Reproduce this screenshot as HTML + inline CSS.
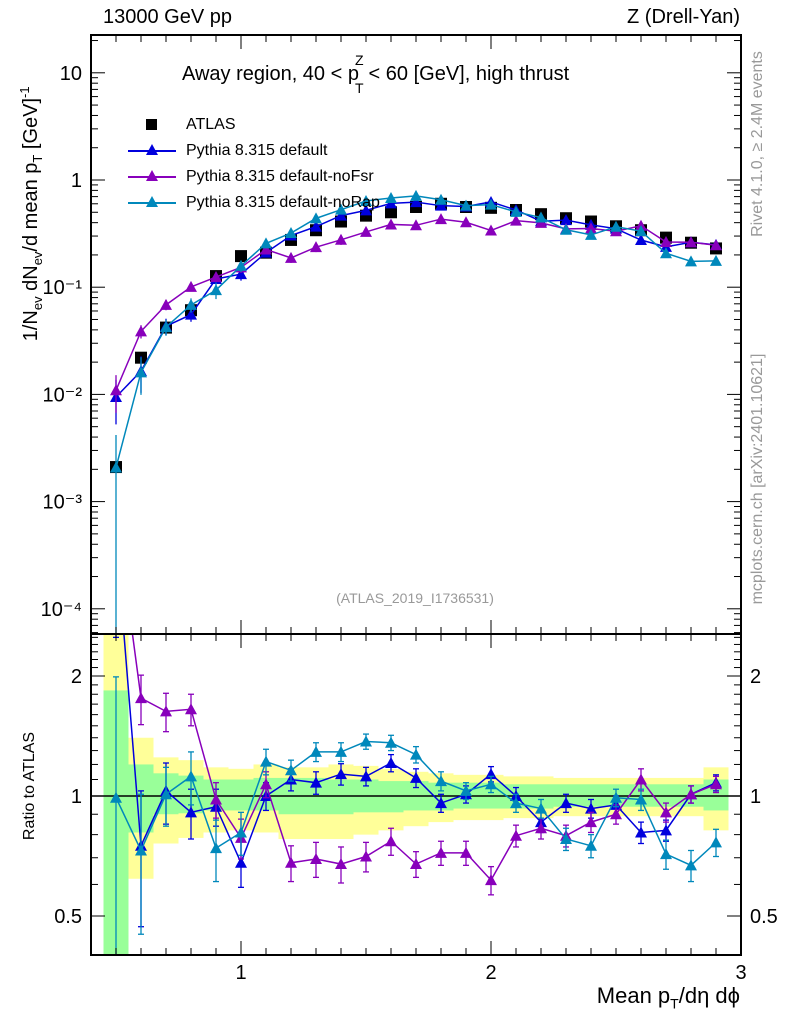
<!DOCTYPE html>
<html><head><meta charset="utf-8"><style>
body{margin:0;background:#fff;}
svg{display:block;font-family:"Liberation Sans",sans-serif;}
</style></head><body>
<svg id="c" width="786" height="1024" viewBox="0 0 786 1024" xmlns="http://www.w3.org/2000/svg"></svg>
<script>
const xs=[0.5,0.6,0.7,0.8,0.9,1.0,1.1,1.2,1.3,1.4,1.5,1.6,1.7,1.8,1.9,2.0,2.1,2.2,2.3,2.4,2.5,2.6,2.7,2.8,2.9];
const atlas=[0.0021,0.022,0.042,0.061,0.127,0.195,0.21,0.276,0.34,0.41,0.465,0.50,0.56,0.60,0.56,0.55,0.525,0.48,0.44,0.41,0.37,0.34,0.29,0.26,0.23];
const rDef=[4.5,0.75,1.03,0.91,0.94,0.68,1.0,1.10,1.08,1.135,1.12,1.21,1.11,0.96,1.01,1.135,1.0,0.86,0.96,0.93,0.95,0.81,0.82,1.01,1.08];
const rFsr=[5.2,1.76,1.63,1.65,0.98,0.785,1.07,0.68,0.695,0.675,0.705,0.77,0.675,0.72,0.72,0.615,0.795,0.83,0.795,0.86,0.90,1.10,0.91,1.01,1.07];
const rRap=[0.99,0.73,1.01,1.12,0.74,0.81,1.22,1.16,1.29,1.29,1.37,1.36,1.27,1.09,1.03,1.07,0.96,0.93,0.78,0.75,0.99,0.98,0.715,0.67,0.765];
const eDef=[2.0,0.28,0.18,0.13,0.10,0.09,0.08,0.07,0.07,0.07,0.06,0.06,0.06,0.05,0.05,0.05,0.05,0.05,0.05,0.05,0.05,0.05,0.05,0.05,0.05];
const eFsr=[2.0,0.25,0.18,0.15,0.10,0.09,0.08,0.07,0.07,0.07,0.06,0.06,0.05,0.05,0.05,0.05,0.05,0.05,0.05,0.05,0.05,0.07,0.05,0.05,0.05];
const eRap=[1.0,0.28,0.17,0.17,0.13,0.10,0.09,0.07,0.07,0.07,0.06,0.06,0.06,0.06,0.05,0.05,0.05,0.05,0.05,0.05,0.05,0.06,0.06,0.06,0.06];
const yUp=[2.6,1.40,1.25,1.23,1.18,1.17,1.20,1.18,1.18,1.20,1.19,1.17,1.15,1.14,1.13,1.13,1.12,1.12,1.11,1.11,1.11,1.11,1.11,1.11,1.18];
const yDn=[0.3,0.62,0.76,0.785,0.81,0.82,0.81,0.78,0.78,0.78,0.80,0.82,0.84,0.86,0.87,0.87,0.88,0.88,0.89,0.89,0.89,0.89,0.89,0.89,0.82];
const gUp=[1.84,1.20,1.14,1.125,1.10,1.10,1.11,1.11,1.11,1.10,1.10,1.09,1.09,1.08,1.08,1.08,1.07,1.07,1.07,1.07,1.07,1.07,1.07,1.07,1.10];
const gDn=[0.3,0.81,0.90,0.905,0.92,0.92,0.92,0.90,0.90,0.90,0.91,0.91,0.92,0.92,0.93,0.93,0.93,0.93,0.94,0.94,0.94,0.94,0.94,0.94,0.92];
const mainTicks=["10","1","10\u207B\u00B9","10\u207B\u00B2","10\u207B\u00B3","10\u207B\u2074"];

const L=91,R=741,T=35,M=634,B=955;
const X=v=>L+(v-0.4)*250;
const Y=v=>180-107.2*Math.log10(v);
const YR=r=>796-120*Math.log2(r);
const svg=document.getElementById('c');
const NS='http://www.w3.org/2000/svg';
function el(tag,at,parent){const e=document.createElementNS(NS,tag);for(const k in at)e.setAttribute(k,at[k]);(parent||svg).appendChild(e);return e;}
function clamp(v,a,b){return Math.max(a,Math.min(b,v));}

const bands=el('g',{});


xs.forEach((x,i)=>{
  const x0=X(x-0.05),x1=X(x+0.05);
  const y1=clamp(YR(yUp[i]),M,B),y2=clamp(YR(yDn[i]),M,B);
  const r=el('rect',{x:x0,y:y1,width:x1-x0,height:y2-y1,fill:'#ffff99'},bands);
  
  
  const g1=clamp(YR(gUp[i]),M,B),g2=clamp(YR(gDn[i]),M,B);
  const g=el('rect',{x:x0,y:g1,width:x1-x0,height:g2-g1,fill:'#99ff99'},bands);
  
  
});
const one=el('line',{x1:L,x2:R,y1:796,y2:796,stroke:'#000','stroke-width':1.5});



function tri(g,cx,cy,col){const p=el('polygon',{points:`${cx-6},${cy+5} ${cx+6},${cy+5} ${cx},${cy-6}`,fill:col},g);return p;}
const series=[
  {name:'pythia-default',col:'#0000dd',r:rDef,e:eDef},
  {name:'pythia-nofsr',col:'#8800bb',r:rFsr,e:eFsr},
  {name:'pythia-norap',col:'#0088bb',r:rRap,e:eRap}
];
const defs=el('defs',{});
const cp=el('clipPath',{id:'cm'},defs);el('rect',{x:L,y:T,width:R-L,height:M-T},cp);
const cr=el('clipPath',{id:'cr'},defs);el('rect',{x:L,y:M,width:R-L,height:B-M},cr);

const ag=el('g',{'clip-path':'url(#cm)'});


xs.forEach((x,i)=>{
  const s=el('rect',{x:X(x)-6,y:Y(atlas[i])-6,width:12,height:12,fill:'#000'},ag);
  
  
});

series.forEach(s=>{
  const gm=el('g',{'clip-path':'url(#cm)'});
  
  
  const vals=xs.map((x,i)=>atlas[i]*s.r[i]);
  el('polyline',{points:xs.map((x,i)=>X(x)+','+Y(vals[i])).join(' '),fill:'none',stroke:s.col,'stroke-width':1.5},gm);
  xs.forEach((x,i)=>{
    const rel=s.e[i]/s.r[i];
    const hi=vals[i]*(1+rel),lo=vals[i]*(1-rel);
    el('line',{x1:X(x),x2:X(x),y1:Y(hi),y2:lo>0?Y(lo):M+10,stroke:s.col,'stroke-width':1.3},gm);
    const p=tri(gm,X(x),Y(vals[i]),s.col);
    
    
  });
  const gr=el('g',{'clip-path':'url(#cr)'});
  
  
  el('polyline',{points:xs.map((x,i)=>X(x)+','+YR(s.r[i])).join(' '),fill:'none',stroke:s.col,'stroke-width':1.5},gr);
  xs.forEach((x,i)=>{
    const hi=s.r[i]+s.e[i],lo=s.r[i]-s.e[i];
    el('line',{x1:X(x),x2:X(x),y1:YR(hi),y2:lo>0?YR(lo):B+10,stroke:s.col,'stroke-width':1.3},gr);
    el('line',{x1:X(x)-3,x2:X(x)+3,y1:YR(hi),y2:YR(hi),stroke:s.col,'stroke-width':1.3},gr);
    if(lo>0)el('line',{x1:X(x)-3,x2:X(x)+3,y1:YR(lo),y2:YR(lo),stroke:s.col,'stroke-width':1.3},gr);
    const p=tri(gr,X(x),YR(s.r[i]),s.col);
    
    
  });
});

const f1=el('rect',{x:L,y:T,width:R-L,height:M-T,fill:'none',stroke:'#000','stroke-width':2});


const f2=el('rect',{x:L,y:M,width:R-L,height:B-M,fill:'none',stroke:'#000','stroke-width':2});



const tk=el('g',{stroke:'#000','stroke-width':1});


for(let k=5;k<=29;k++){
  const v=k/10,x=X(v),len=(k%10===0)?14:7;
  [[T,1],[M,-1],[M,1],[B,-1]].forEach(([y,d])=>el('line',{x1:x,x2:x,y1:y,y2:y+d*len},tk));
}
for(let d=-5;d<=1;d++){
  for(let m=1;m<=9;m++){
    const v=m*Math.pow(10,d),y=Y(v);
    if(y<T||y>M)continue;
    const len=m===1?14:7;
    el('line',{x1:L,x2:L+len,y1:y,y2:y},tk);el('line',{x1:R,x2:R-len,y1:y,y2:y},tk);
  }
}
for(let k=4;k<=25;k++){
  const v=k/10,y=YR(v);if(y<M||y>B)continue;
  const len=(k===5||k===10||k===20)?14:7;
  el('line',{x1:L,x2:L+len,y1:y,y2:y},tk);el('line',{x1:R,x2:R-len,y1:y,y2:y},tk);
}

const tl=el('g',{'font-size':20,fill:'#000'});


mainTicks.forEach((t,i)=>{
  const y=Y(Math.pow(10,1-i));
  const tx=el('text',{x:82,y:y+7,'text-anchor':'end'},tl);tx.textContent=t;
});
[["2",2],["1",1],["0.5",0.5]].forEach(([t,v])=>{
  const a=el('text',{x:82,y:YR(v)+7,'text-anchor':'end'},tl);a.textContent=t;
  const b=el('text',{x:750,y:YR(v)+7,'text-anchor':'start'},tl);b.textContent=t;
});
[1,2,3].forEach(v=>{const a=el('text',{x:X(v),y:979,'text-anchor':'middle'},tl);a.textContent=String(v);});
</script>
<div style="position:absolute;left:0;top:0;width:786px;height:1024px;font-family:'Liberation Sans',sans-serif;pointer-events:none;">
<div style="position:absolute;left:103px;top:6px;font-size:20px;">13000 GeV pp</div>
<div style="position:absolute;right:46px;top:6px;font-size:20px;">Z (Drell-Yan)</div>
<div style="position:absolute;left:182px;top:63px;font-size:20px;white-space:nowrap;">Away region, 40 &lt; p<span style="display:inline-block;position:relative;width:4px;height:10px;"><span style="font-size:14px;position:absolute;left:-4px;top:10px;">T</span><span style="font-size:14px;position:absolute;left:-4px;top:-18px;">Z</span></span> &lt; 60 [GeV], high thrust</div>
<div style="position:absolute;left:122px;top:112px;font-size:16px;line-height:26px;white-space:nowrap;">
 <div style="position:relative;height:26px;"><span style="position:absolute;left:24px;top:7px;width:11px;height:11px;background:#000"></span><span style="position:absolute;left:64px;">ATLAS</span></div>
 <div style="position:relative;height:26px;"><span style="position:absolute;left:6px;top:12px;width:48px;height:1.5px;background:#0000dd"></span><span style="position:absolute;left:24px;top:6px;width:0;height:0;border-left:6px solid transparent;border-right:6px solid transparent;border-bottom:11px solid #0000dd"></span><span style="position:absolute;left:64px;white-space:nowrap;">Pythia 8.315 default</span></div>
 <div style="position:relative;height:26px;"><span style="position:absolute;left:6px;top:12px;width:48px;height:1.5px;background:#8800bb"></span><span style="position:absolute;left:24px;top:6px;width:0;height:0;border-left:6px solid transparent;border-right:6px solid transparent;border-bottom:11px solid #8800bb"></span><span style="position:absolute;left:64px;white-space:nowrap;">Pythia 8.315 default-noFsr</span></div>
 <div style="position:relative;height:26px;"><span style="position:absolute;left:6px;top:12px;width:48px;height:1.5px;background:#0088bb"></span><span style="position:absolute;left:24px;top:6px;width:0;height:0;border-left:6px solid transparent;border-right:6px solid transparent;border-bottom:11px solid #0088bb"></span><span style="position:absolute;left:64px;white-space:nowrap;">Pythia 8.315 default-noRap</span></div>
</div>
<div style="position:absolute;left:0;width:830px;text-align:center;top:590px;font-size:14px;color:#999;">(ATLAS_2019_I1736531)</div>
<div style="position:absolute;width:460px;transform:rotate(-90deg);text-align:center;font-size:20px;white-space:nowrap;top:200px;left:-199px;">1/N<sub style="font-size:13px">ev</sub> dN<sub style="font-size:13px">ev</sub>/d mean p<sub style="font-size:13px">T</sub> [GeV]<sup style="font-size:13px">-1</sup></div>
<div style="position:absolute;left:-50px;top:777px;width:160px;transform:rotate(-90deg);text-align:center;font-size:16px;white-space:nowrap;">Ratio to ATLAS</div>
<div style="position:absolute;left:658px;top:135px;width:200px;transform:rotate(-90deg);text-align:center;font-size:16px;color:#999;white-space:nowrap;">Rivet 4.1.0, ≥ 2.4M events</div>
<div style="position:absolute;left:608px;top:470px;width:300px;transform:rotate(-90deg);text-align:center;font-size:16px;color:#999;white-space:nowrap;">mcplots.cern.ch [arXiv:2401.10621]</div>
<div style="position:absolute;right:46px;top:983px;font-size:22px;white-space:nowrap;">Mean p<sub style="font-size:14px">T</sub>/dη dϕ</div>
</div>
</body></html>
